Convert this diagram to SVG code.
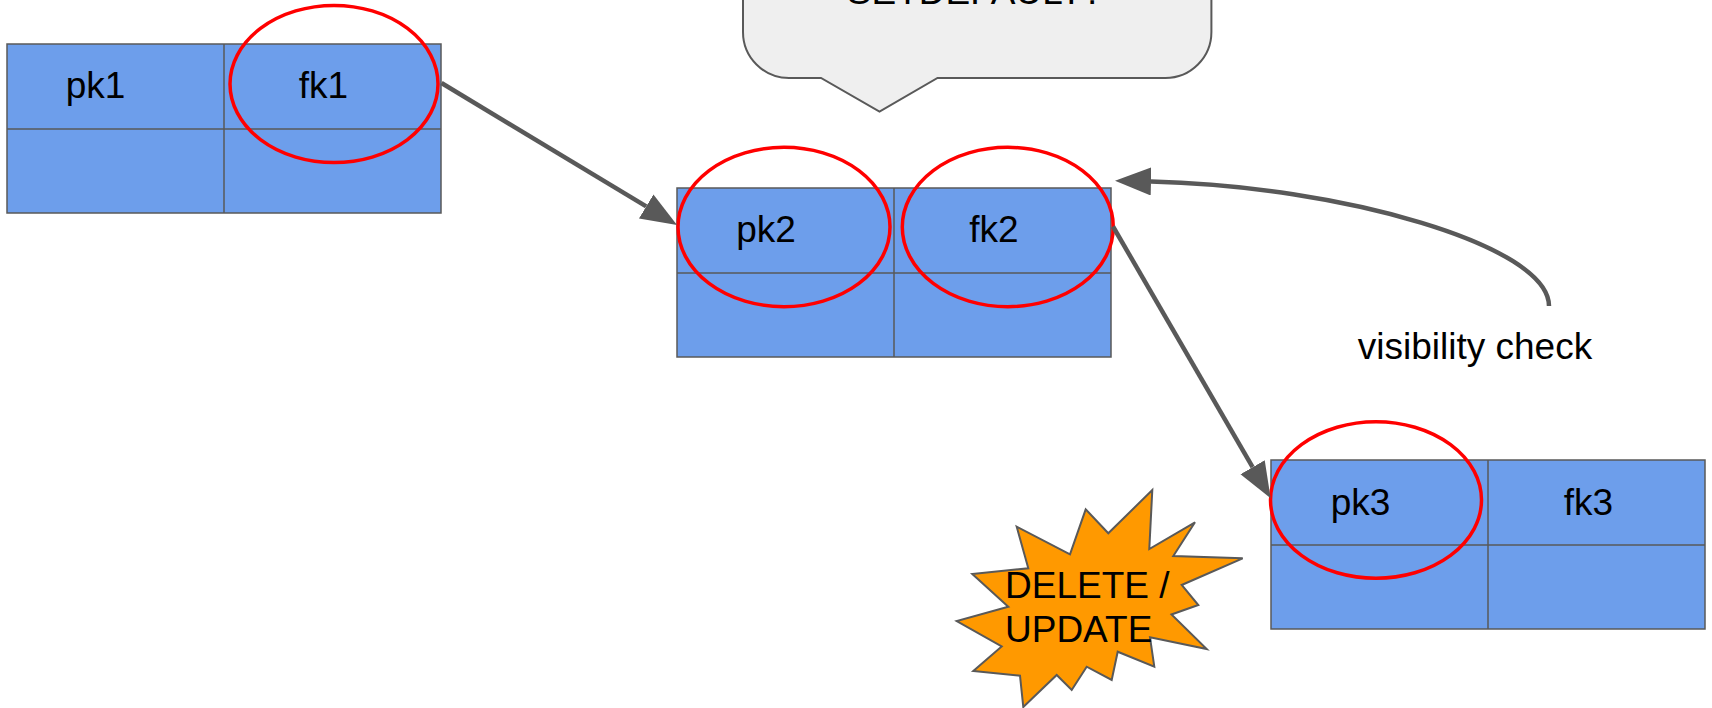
<svg xmlns="http://www.w3.org/2000/svg" width="1712" height="708" viewBox="0 0 1712 708">
  <style>
    .cell { fill: #6d9eeb; stroke: #595959; stroke-width: 1.5; }
    .grid { stroke: #595959; stroke-width: 1.5; }
    .hl { fill: none; stroke: #ff0000; stroke-width: 3.5; }
    .lbl { font-family: "Liberation Sans", Arial, sans-serif; font-size: 37px; fill: #000000; }
    .mid { text-anchor: middle; }
    .conn { fill: none; stroke: #595959; stroke-width: 4.5; }
  </style>
  <defs>
    <marker id="arrow" markerUnits="userSpaceOnUse" markerWidth="40" markerHeight="30" refX="0" refY="14" orient="auto" viewBox="0 0 40 30">
      <path d="M0,0 L36,14 L0,28 Z" fill="#595959"/>
    </marker>
  </defs>

  <g id="callout">
    <path d="M743,-60 L743,32 A46,46 0 0 0 789,78 L821,78 L879.5,111.5 L937.5,78 L1165.4,78 A46,46 0 0 0 1211.4,32 L1211.4,-60 Z" fill="#efefef" stroke="#595959" stroke-width="2"/>
    <text class="lbl mid" x="975" y="4">SETDEFAULT?</text>
  </g>

  <g id="table1">
    <rect class="cell" x="7" y="44" width="434" height="169"/>
    <line class="grid" x1="224" y1="44" x2="224" y2="213"/>
    <line class="grid" x1="7" y1="129" x2="441" y2="129"/>
    <text class="lbl mid" x="95.5" y="98">pk1</text>
    <text class="lbl mid" x="323.5" y="98">fk1</text>
    <ellipse class="hl" cx="334" cy="84" rx="104" ry="78.6"/>
  </g>

  <g id="table2">
    <rect class="cell" x="677" y="188" width="434" height="169"/>
    <line class="grid" x1="894" y1="188" x2="894" y2="357"/>
    <line class="grid" x1="677" y1="273" x2="1111" y2="273"/>
    <text class="lbl mid" x="766" y="242">pk2</text>
    <text class="lbl mid" x="994" y="242">fk2</text>
    <ellipse class="hl" cx="784" cy="227" rx="106" ry="79.7"/>
    <ellipse class="hl" cx="1007.8" cy="227" rx="105.5" ry="79.7"/>
  </g>

  <g id="table3">
    <rect class="cell" x="1271" y="460" width="434" height="169"/>
    <line class="grid" x1="1488" y1="460" x2="1488" y2="629"/>
    <line class="grid" x1="1271" y1="545" x2="1705" y2="545"/>
    <text class="lbl mid" x="1360.5" y="515">pk3</text>
    <text class="lbl mid" x="1588.5" y="515">fk3</text>
    <ellipse class="hl" cx="1376" cy="500" rx="105.5" ry="78.3"/>
  </g>

  <g id="burst">
    <polygon points="1152.3,490 1149.3,549 1195,522.3 1173.3,556 1242.7,558.3 1181.7,585 1198.3,605 1171.5,614.5 1206.7,649 1150,637.3 1154.3,666.7 1117.7,651.7 1111.7,680 1086.7,666.7 1071.7,690 1056.7,675 1023.3,707 1020,675.7 973.3,671 1001.7,646.5 956.7,621 1008.3,606.7 972.3,574 1028.3,568.3 1016.7,526.7 1070,554.3 1085.7,509.3 1108.3,533.3" fill="#ff9900" stroke="#595959" stroke-width="2" stroke-linejoin="miter"/>
    <text class="lbl" x="1005" y="597.7">DELETE /</text>
    <text class="lbl" x="1005" y="641.7">UPDATE</text>
  </g>

  <g id="connectors">
    <path class="conn" d="M441.5,83 L646.2,206.4" marker-end="url(#arrow)"/>
    <path class="conn" d="M1113,226.5 L1252.6,467.2" marker-end="url(#arrow)"/>
    <path class="conn" d="M1549,306 C1549,245 1340,186 1151,181.5" marker-end="url(#arrow)"/>
    <text class="lbl mid" x="1475" y="359">visibility check</text>
  </g>
</svg>
